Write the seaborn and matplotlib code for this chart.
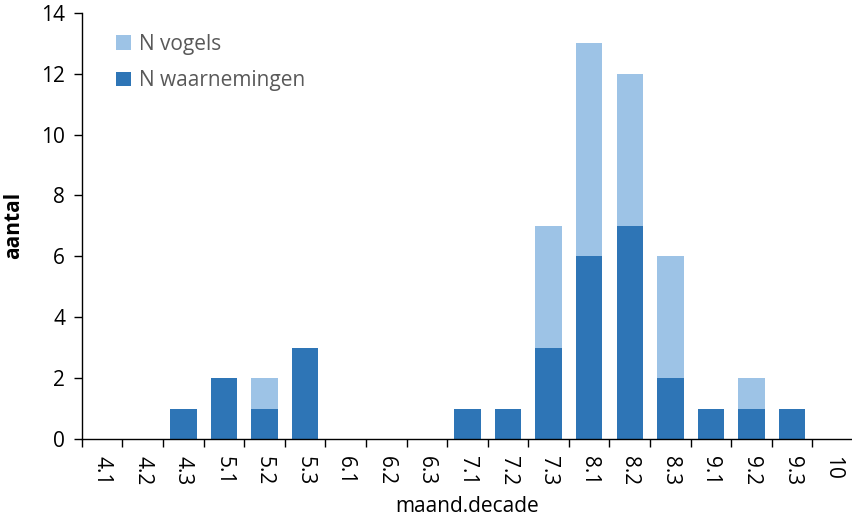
import matplotlib
matplotlib.use("Agg")
import matplotlib.pyplot as plt
import seaborn as sns
import pandas as pd
import numpy as np

categories = ["4.1", "4.2", "4.3", "5.1", "5.2", "5.3", "6.1", "6.2", "6.3",
              "7.1", "7.2", "7.3", "8.1", "8.2", "8.3", "9.1", "9.2", "9.3", "10"]
n_vogels = [0, 0, 1, 2, 2, 3, 0, 0, 0, 1, 1, 7, 13, 12, 6, 1, 2, 1, 0]
n_waarnemingen = [0, 0, 1, 2, 1, 3, 0, 0, 0, 1, 1, 3, 6, 7, 2, 1, 1, 1, 0]

df = pd.DataFrame({"cat": categories, "vogels": n_vogels, "waarn": n_waarnemingen})

sns.set_style("white")
plt.rcParams["font.family"] = ["Open Sans", "DejaVu Sans"]

fig = plt.figure(figsize=(8.53, 5.17), dpi=100)
ax = fig.add_axes([0.096, 0.151, 0.904, 0.824])

light = "#9DC3E6"
dark = "#2E75B6"
sns.barplot(data=df, x="cat", y="vogels", color=light, width=0.65, ax=ax,
            label="N vogels", order=categories, saturation=1, linewidth=0)
sns.barplot(data=df, x="cat", y="waarn", color=dark, width=0.65, ax=ax,
            label="N waarnemingen", order=categories, saturation=1, linewidth=0)

n = len(categories)
ax.set_xlim(-0.5, n - 0.5)
ax.set_ylim(0, 14)
ax.set_yticks(np.arange(0, 15, 2))
ax.tick_params(axis="y", labelsize=15, length=6, width=1, direction="out", left=True,
               color="black", labelcolor="black", pad=6)
ax.set_xticks(np.arange(n))
ax.set_xticklabels(categories, rotation=270, fontsize=15)
ax.tick_params(axis="x", which="major", length=0, pad=12, labelcolor="black")
ax.set_xticks(np.arange(-0.5, n, 1.0), minor=True)
ax.tick_params(axis="x", which="minor", length=6, width=1, direction="out", bottom=True, color="black")

for s in ["top", "right"]:
    ax.spines[s].set_visible(False)
for s in ["left", "bottom"]:
    ax.spines[s].set_color("black")
    ax.spines[s].set_linewidth(1)

ax.set_xlabel("maand.decade", fontsize=15, labelpad=8, color="black")
ax.set_ylabel("aantal", fontsize=15, fontweight="bold", labelpad=12, color="black")

leg = ax.legend(loc="upper left", bbox_to_anchor=(0.02, 0.995), frameon=False, fontsize=15,
                handlelength=0.7, handleheight=0.7, handletextpad=0.4, labelspacing=0.75,
                labelcolor="#595959")

fig.savefig("out.png", dpi=100)
